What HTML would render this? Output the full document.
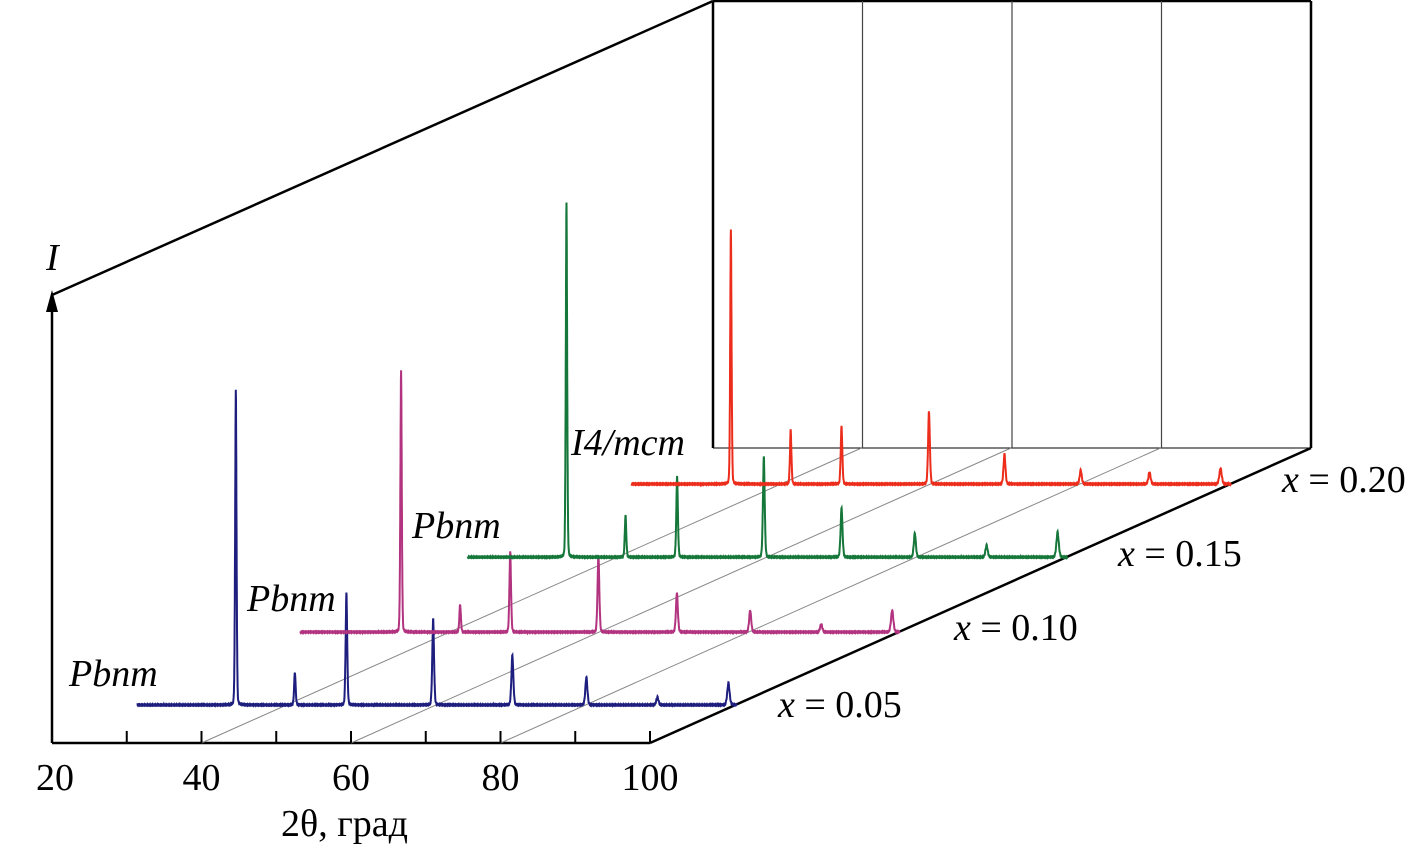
<!DOCTYPE html>
<html><head><meta charset="utf-8"><style>
html,body{margin:0;padding:0;background:#fff}
svg{display:block}
text{font-family:"Liberation Serif",serif}
</style></head><body>
<svg id="chart" width="1424" height="848" viewBox="0 0 1424 848" xmlns="http://www.w3.org/2000/svg">
<g id="frame" stroke="#000" fill="none" stroke-width="2.5">
<line x1="52" y1="743" x2="650" y2="743"/>
<line x1="52" y1="743" x2="52" y2="300"/>
<line x1="52" y1="295" x2="713" y2="1"/>
<line x1="713" y1="1" x2="1311" y2="1"/>
<line x1="713" y1="1" x2="713" y2="448"/>
<line x1="1311" y1="1" x2="1311" y2="448"/>
<line x1="650" y1="743" x2="1311" y2="448"/>
<line x1="713" y1="448" x2="1311" y2="448" stroke-width="1"/>
</g>
<polygon points="52,290 46,312 58,312" fill="#000"/>
<g id="grid"></g>
<g id="ticks"></g>
<g id="series"></g>
<g font-size="38">
<text x="46" y="270" font-style="italic">I</text>
<text x="281" y="836">2θ, град</text>
<text x="69" y="686" font-style="italic">Pbnm</text>
<text x="247" y="611" font-style="italic">Pbnm</text>
<text x="412" y="538" font-style="italic">Pbnm</text>
<text x="571" y="455" font-style="italic">I4/mcm</text>
<text x="778" y="717"><tspan font-style="italic">x</tspan> = 0.05</text>
<text x="954" y="640"><tspan font-style="italic">x</tspan> = 0.10</text>
<text x="1118" y="566"><tspan font-style="italic">x</tspan> = 0.15</text>
<text x="1282" y="492"><tspan font-style="italic">x</tspan> = 0.20</text>
</g>
</svg>
<script>
const tickValues=[20,30,40,50,60,70,80,90,100];
const tickLabels=["20","40","60","80","100"];
const seriesNames=["x = 0.05","x = 0.10","x = 0.15","x = 0.20"];
const seriesDepth=[0.129,0.376,0.63,0.878];
const seriesColors=["#1e1e7e","#b2337f","#16773a","#ec2d1c"];
const peaks005=[33.2,41.1,48.0,59.6,70.2,80.1,89.6,99.1];
const heights005=[315,33,112,87,50,28,8,22];
const peaks010=[33.5,41.4,48.1,59.9,70.4,80.2,89.7,99.2];
const heights010=[262,28,80,77,40,22,8,22];
const peaks015=[33.2,41.1,48.0,59.6,70.0,79.8,89.4,98.9];
const heights015=[354,42,82,100,50,24,12,25];
const peaks020=[33.3,41.3,48.1,59.8,69.9,80.1,89.3,98.8];
const heights020=[254,54,58,73,30,14,12,16];
const allPeaks=[peaks005,peaks010,peaks015,peaks020];
const allHeights=[heights005,heights010,heights015,heights020];

const NS="http://www.w3.org/2000/svg";
const X0=52,X1=650,Y0=743,DX=660,DY=-295;
function xs(t){return X0+(t-20)/80*(X1-X0);}
function mk(tag,attrs,parent){const e=document.createElementNS(NS,tag);for(const k in attrs)e.setAttribute(k,attrs[k]);parent.appendChild(e);return e;}

const grid=document.getElementById('grid');
[40,60,80].forEach(v=>{
  const l=mk('line',{x1:xs(v),y1:Y0,x2:xs(v)+DX,y2:Y0+DY,stroke:'#888','stroke-width':1},grid);
  
  
  const b=mk('line',{x1:xs(v)+DX+1,y1:1,x2:xs(v)+DX+1,y2:448,stroke:'#444','stroke-width':1.2},grid);
  
  
});
const ticks=document.getElementById('ticks');
tickValues.forEach(v=>{
  const t=mk('line',{x1:xs(v),y1:Y0,x2:xs(v),y2:Y0-12,stroke:'#000','stroke-width':2},ticks);
  
  
});
tickLabels.forEach(s=>{
  const v=+s;
  const t=mk('text',{x:xs(v)+(v===20?3:0),y:790,'text-anchor':'middle','font-size':38},ticks);
  t.textContent=s;
  
  
});
const sg=document.getElementById('series');
seriesDepth.forEach((f,i)=>{
  const ox=DX*f,oy=Y0+DY*f;
  let d='';
  for(let t=20;t<=100.2;t+=0.02){
    let y=0;
    allPeaks[i].forEach((p,j)=>{const w=0.09+p*0.0015;const z=(t-p)/w;y+=allHeights[i][j]*(0.75*Math.exp(-z*z)+0.25/(1+z*z*4));});
    y+=Math.sin(t*37.1+i)*0.8;
    d+=(d?'L':'M')+(xs(t)+ox).toFixed(1)+','+(oy-y).toFixed(1);
  }
  const p=mk('path',{d:d,fill:'none',stroke:seriesColors[i],'stroke-width':2},sg);
  
  
});
</script>
</body></html>
